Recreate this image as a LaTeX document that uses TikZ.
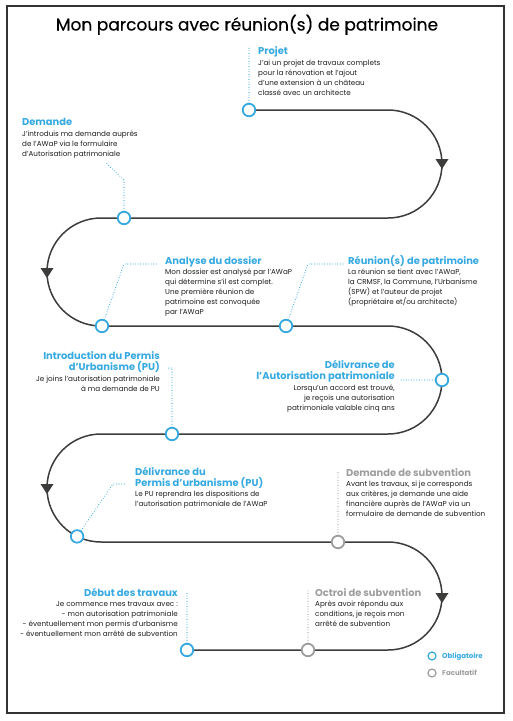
\documentclass[tikz,border=0pt]{standalone}
\usepackage{fontspec}
\setmainfont{Poppins}
\newfontfamily\titlefont[FakeBold=0.35]{Poppins}
\usetikzlibrary{backgrounds}
\definecolor{cblue}{HTML}{36A9E1}
\definecolor{cgray}{HTML}{9D9D9C}
\definecolor{cline}{HTML}{3C3C3B}
\definecolor{ctext}{HTML}{1D1D1B}
\begin{document}
\begin{tikzpicture}[x=1pt,y=-1pt,
  stepdot/.style={circle, draw=cblue, line width=1.8pt, fill=white, minimum size=12.5pt, inner sep=0pt},
  optdot/.style={stepdot, draw=cgray},
  legdot/.style={circle, draw=cblue, line width=1.2pt, fill=white, minimum size=8pt, inner sep=0pt},
  stepleader/.style={cblue, line width=1.1pt, line cap=round, dash pattern=on 0pt off 2.6pt},
  optleader/.style={stepleader, cgray},
  stephead/.style={inner sep=0pt, text=cblue, font=\fontsize{9.9}{10.8}\selectfont\bfseries},
  opthead/.style={stephead, text=cgray},
  stepbody/.style={inner sep=0pt, text=ctext, font=\fontsize{7.2}{10}\selectfont},
  legtext/.style={inner sep=0pt, anchor=base west, font=\fontsize{7}{8}\selectfont\bfseries},
  routeline/.style={cline, line width=1.5pt},
  arrowtri/.style={fill=cline}
]
\useasboundingbox (0,0) rectangle (512,721);
\draw[black!80, line width=1.1pt] (7,6) rectangle (504,713);
\node[anchor=base, inner sep=0pt, font=\titlefont\fontsize{17}{20}\selectfont, text=black] (title) at (247,30.5) {Mon parcours avec réunion(s) de patrimoine};

% step circles
\node[stepdot] (projet) at (249,110) {};
\node[stepdot] (demande) at (124,218) {};
\node[stepdot] (analyse) at (102,326) {};
\node[stepdot] (reunion) at (286,326) {};
\node[stepdot] (delivap) at (442,380) {};
\node[stepdot] (intro) at (172,434) {};
\node[stepdot] (delivpu) at (77.1,536.4) {};
\node[optdot] (demsub) at (338,542) {};
\node[stepdot] (debut) at (187,650) {};
\node[optdot] (octroi) at (308,650) {};

% route
\begin{scope}[on background layer]
\draw[routeline] (projet.center) -- (388,110) arc[start angle=-90, end angle=90, radius=54]
  -- (101,218) arc[start angle=270, end angle=90, radius=54]
  -- (388,326) arc[start angle=-90, end angle=90, radius=54]
  -- (101,434) arc[start angle=270, end angle=90, radius=54]
  -- (388,542) arc[start angle=-90, end angle=90, radius=54]
  -- (debut.center);
\end{scope}
\fill[arrowtri] (435.5,159) -- (448.5,159) -- (442,169) -- cycle;
\fill[arrowtri] (40.5,268) -- (53.5,268) -- (47,278) -- cycle;
\fill[arrowtri] (40.5,484) -- (53.5,484) -- (47,494) -- cycle;
\fill[arrowtri] (435.5,593) -- (448.5,593) -- (442,603) -- cycle;

% leader end points
\coordinate (projet-l) at (249,47);
\coordinate (demande-k) at (124,180);
\coordinate (demande-l) at (106,163);
\coordinate (analyse-k) at (124,264);
\coordinate (analyse-l) at (158,264);
\coordinate (reunion-k) at (308,264);
\coordinate (reunion-l) at (343,264);
\coordinate (delivap-l) at (400,380);
\coordinate (intro-k) at (172,368);
\coordinate (intro-l) at (166,368);
\coordinate (delivpu-k) at (113,484);
\coordinate (delivpu-l) at (125,484);
\coordinate (demsub-l) at (338,472);
\coordinate (debut-l) at (187,592);
\coordinate (octroi-l) at (308,590);

\draw[stepleader] (projet) -- (projet-l);
\draw[stepleader] (demande) -- (demande-k) -- (demande-l);
\draw[stepleader] (analyse) -- (analyse-k) -- (analyse-l);
\draw[stepleader] (reunion) -- (reunion-k) -- (reunion-l);
\draw[stepleader] (delivap) -- (delivap-l);
\draw[stepleader] (intro) -- (intro-k) -- (intro-l);
\draw[stepleader] (delivpu) -- (delivpu-k) -- (delivpu-l);
\draw[optleader] (demsub) -- (demsub-l);
\draw[stepleader] (debut) -- (debut-l);
\draw[optleader] (octroi) -- (octroi-l);

% texts (multi-line nodes are placed by the baseline of their last line)
\node[stephead, anchor=base west] (projet-h) at (258,54.3) {Projet};
\node[stepbody, anchor=base west, align=left] (projet-b) at (258,95) {J’ai un projet de travaux complets\\pour la rénovation et l’ajout\\d’une extension à un château\\classé avec un architecte};

\node[stephead, anchor=base west] (demande-h) at (22,125) {Demande};
\node[stepbody, anchor=base west, align=left] (demande-b) at (22,156) {J’introduis ma demande auprès\\de l’AWaP via le formulaire\\d’Autorisation patrimoniale};

\node[stephead, anchor=base west] (analyse-h) at (165,264) {Analyse du dossier};
\node[stepbody, anchor=base west, align=left] (analyse-b) at (165,314.5) {Mon dossier est analysé par l’AWaP\\qui détermine s’il est complet.\\Une première réunion de\\patrimoine est convoquée\\par l’AWaP};

\node[stephead, anchor=base west] (reunion-h) at (348,264) {Réunion(s) de patrimoine};
\node[stepbody, anchor=base west, align=left] (reunion-b) at (348,304.5) {La réunion se tient avec l’AWaP,\\la CRMSF, la Commune, l’Urbanisme\\(SPW) et l’auteur de projet\\(propriétaire et/ou architecte)};

\node[stephead, anchor=base east, align=right] (intro-h) at (160,370) {Introduction du Permis\\d’Urbanisme (PU)};
\node[stepbody, anchor=base east, align=right] (intro-b) at (160,391) {Je joins l’autorisation patrimoniale\\à ma demande de PU};

\node[stephead, anchor=base east, align=right] (delivap-h) at (395,379) {Délivrance de\\l’Autorisation patrimoniale};
\node[stepbody, anchor=base east, align=right] (delivap-b) at (395,410.5) {Lorsqu’un accord est trouvé,\\je reçois une autorisation\\patrimoniale valable cinq ans};

\node[stephead, anchor=base west, align=left] (delivpu-h) at (135,486.5) {Délivrance du\\Permis d’urbanisme (PU)};
\node[stepbody, anchor=base west, align=left] (delivpu-b) at (135,506.5) {Le PU reprendra les dispositions de\\l’autorisation patrimoniale de l’AWaP};

\node[opthead, anchor=base west] (demsub-h) at (346,476) {Demande de subvention};
\node[stepbody, anchor=base west, align=left] (demsub-b) at (346,516) {Avant les travaux, si je corresponds\\aux critères, je demande une aide\\financière auprès de l’AWaP via un\\formulaire de demande de subvention};

\node[stephead, anchor=base east] (debut-h) at (178,596) {Début des travaux};
\node[stepbody, anchor=base east, align=right] (debut-b) at (178,636.5) {Je commence mes travaux avec :\\- mon autorisation patrimoniale\\- éventuellement mon permis d’urbanisme\\- éventuellement mon arrêté de subvention};

\node[opthead, anchor=base west] (octroi-h) at (315,596) {Octroi de subvention};
\node[stepbody, anchor=base west, align=left] (octroi-b) at (315,626) {Après avoir répondu aux\\conditions, je reçois mon\\arrêté de subvention};

% legend
\node[legdot] (leg-ob) at (432,656) {};
\node[legtext, text=cblue] (leg-ob-t) at (442,658.5) {Obligatoire};
\node[legdot, draw=cgray] (leg-fa) at (432,673) {};
\node[legtext, text=cgray] (leg-fa-t) at (442,675) {Facultatif};
\end{tikzpicture}
\end{document}
